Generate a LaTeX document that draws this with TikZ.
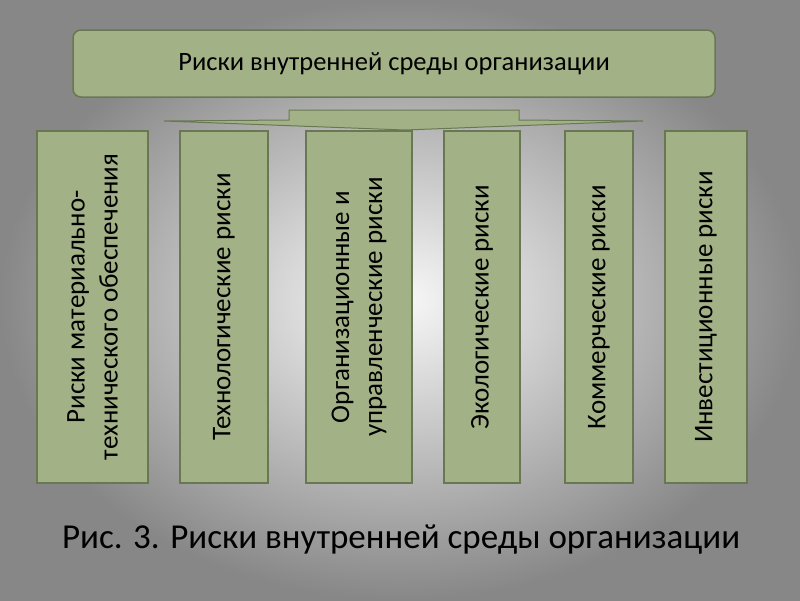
\documentclass[tikz,border=0pt]{standalone}
\usepackage{fontspec}
\setmainfont{Carlito}
\definecolor{boxfill}{RGB}{163,178,134}
\definecolor{boxline}{RGB}{105,120,82}
\definecolor{bgout}{RGB}{135,135,135}
\definecolor{bgin}{RGB}{248,248,248}
\begin{document}
\begin{tikzpicture}[x=1pt,y=-1pt,
  bx/.style={draw=boxline,line width=1.5pt,fill=boxfill},
  col/.style={rotate=90,align=center,font=\fontsize{27}{33}\selectfont,text=black}]
\useasboundingbox (0,0) rectangle (800,600);
\shade[inner color=bgin,outer color=bgout] (0,0) rectangle (800,600);
\node[bx,rounded corners=8pt,minimum width=642pt,minimum height=67pt,font=\fontsize{26.5}{30}\selectfont] (top) at (394,63.5) {Риски внутренней среды организации};
\draw[bx,line width=1pt] (289,110) -- (519,110) -- (519,120) -- (643,121) -- (405,130) -- (164,121) -- (289,120) -- cycle;
\foreach \n/\a/\b/\t in {c1/37/148/{Риски материально-\\технического обеспечения},
  c2/180/268/{Технологические риски},
  c3/306/412/{Организационные и\\управленческие риски},
  c4/444/520/{Экологические риски},
  c5/565/633/{Коммерческие риски},
  c6/665/747/{Инвестиционные риски}}{
  \path[bx] (\a,131) rectangle (\b,483);
  \node[col] (\n) at ({(\a+\b)/2},307) {\t};
}
\node[font=\fontsize{35}{40}\selectfont] (cap) at (401,540) {Рис. 3. Риски внутренней среды организации};
\end{tikzpicture}
\end{document}
